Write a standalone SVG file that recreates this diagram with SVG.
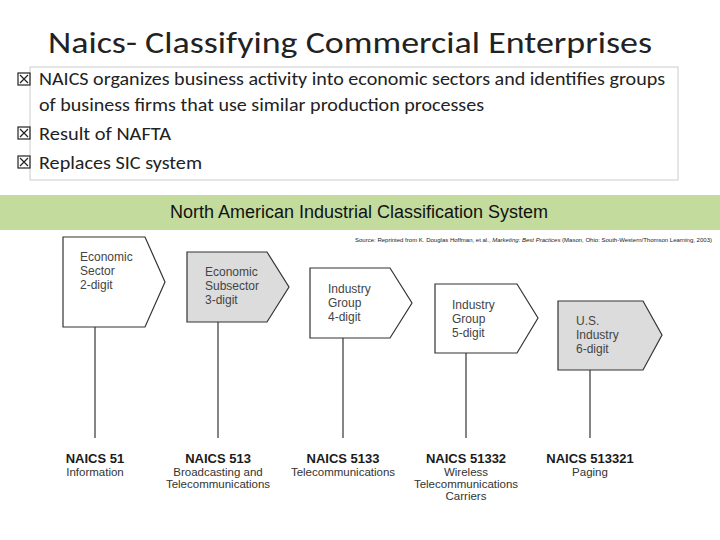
<svg xmlns="http://www.w3.org/2000/svg" width="720" height="540" viewBox="0 0 720 540">
<style>
.t{font-family:"Liberation Sans",Arial,sans-serif}
.c{font-family:Calibri,Carlito,"Liberation Sans",sans-serif}
.sg{stroke:#333;stroke-width:1.2}
.w{fill:#fff}.g{fill:#dcdcdc}
.p{stroke:#333;stroke-width:1.2}
.s{font-family:"Liberation Sans",Arial,sans-serif;font-size:12px;fill:#444}
.b{font-family:"Liberation Sans",Arial,sans-serif;font-size:13px;font-weight:bold;fill:#1a1a1a;text-anchor:middle}
.l{font-family:"Liberation Sans",Arial,sans-serif;font-size:11.5px;fill:#333;text-anchor:middle}
.cb{fill:none;stroke:#222;stroke-width:1.2}
</style>
<rect width="720" height="540" fill="#fff"/>
<text x="48" y="53" class="c" font-size="31" textLength="604" lengthAdjust="spacingAndGlyphs" fill="#222">Naics- Classifying Commercial Enterprises</text>
<rect x="30" y="67" width="648" height="113" fill="#fff" stroke="#ccc"/>
<g class="c" font-size="18" fill="#222">
<g class="cb"><rect x="18" y="73" width="12" height="12"/><path d="M20 75l8 8M28 75l-8 8"/>
<rect x="18" y="127" width="12" height="12"/><path d="M20 129l8 8M28 129l-8 8"/>
<rect x="18" y="156" width="12" height="12"/><path d="M20 158l8 8M28 158l-8 8"/></g>
<text x="39" y="85" textLength="626" lengthAdjust="spacingAndGlyphs">NAICS organizes business activity into economic sectors and identifies groups</text>
<text x="39" y="111" textLength="445" lengthAdjust="spacingAndGlyphs">of business firms that use similar production processes</text>
<text x="39" y="140" textLength="132" lengthAdjust="spacingAndGlyphs">Result of NAFTA</text>
<text x="39" y="169" textLength="163" lengthAdjust="spacingAndGlyphs">Replaces SIC system</text>
</g>
<rect x="0" y="195" width="720" height="35" fill="#c3dc9e"/>
<text x="359" y="218" class="t" font-size="18" text-anchor="middle" fill="#111">North American Industrial Classification System</text>
<text x="355" y="242" class="t" font-size="5" textLength="357" lengthAdjust="spacingAndGlyphs" fill="#222">Source: Reprinted from K. Douglas Hoffman, et al., <tspan font-style="italic">Marketing: Best Practices</tspan> (Mason, Ohio: South-Western/Thomson Learning, 2003)</text>
<g id="connectors">
<line class="p" x1="95" y1="327" x2="95" y2="438"/>
<line class="p" x1="218" y1="322" x2="218" y2="438"/>
<line class="p" x1="343" y1="338" x2="343" y2="438"/>
<line class="p" x1="466" y1="353" x2="466" y2="438"/>
<line class="p" x1="590" y1="370" x2="590" y2="438"/>
</g>
<g id="n1"><path class="sg w" d="M63 237H145L165 282L145 327H63Z"/>
<text class="s" x="80" y="261">Economic</text><text class="s" x="80" y="275">Sector</text><text class="s" x="80" y="289">2-digit</text></g>
<g id="n2"><path class="sg g" d="M187 252H267L289 287L267 322H187Z"/>
<text class="s" x="205" y="276">Economic</text><text class="s" x="205" y="290">Subsector</text><text class="s" x="205" y="304">3-digit</text></g>
<g id="n3"><path class="sg w" d="M310 268H390L412 303L390 338H310Z"/>
<text class="s" x="328" y="293">Industry</text><text class="s" x="328" y="307">Group</text><text class="s" x="328" y="321">4-digit</text></g>
<g id="n4"><path class="sg w" d="M435 284H517L538 318L517 353H435Z"/>
<text class="s" x="452" y="309">Industry</text><text class="s" x="452" y="323">Group</text><text class="s" x="452" y="337">5-digit</text></g>
<g id="n5"><path class="sg g" d="M558 301H643L662 335L643 370H558Z"/>
<text class="s" x="576" y="325">U.S.</text><text class="s" x="576" y="339">Industry</text><text class="s" x="576" y="353">6-digit</text></g>
<g id="lab1"><text class="b" x="95" y="463">NAICS 51</text><text class="l" x="95" y="476">Information</text></g>
<g id="lab2"><text class="b" x="218" y="463">NAICS 513</text><text class="l" x="218" y="476">Broadcasting and</text><text class="l" x="218" y="488">Telecommunications</text></g>
<g id="lab3"><text class="b" x="343" y="463">NAICS 5133</text><text class="l" x="343" y="476">Telecommunications</text></g>
<g id="lab4"><text class="b" x="466" y="463">NAICS 51332</text><text class="l" x="466" y="476">Wireless</text><text class="l" x="466" y="488">Telecommunications</text><text class="l" x="466" y="500">Carriers</text></g>
<g id="lab5"><text class="b" x="590" y="463">NAICS 513321</text><text class="l" x="590" y="476">Paging</text></g>
</svg>
